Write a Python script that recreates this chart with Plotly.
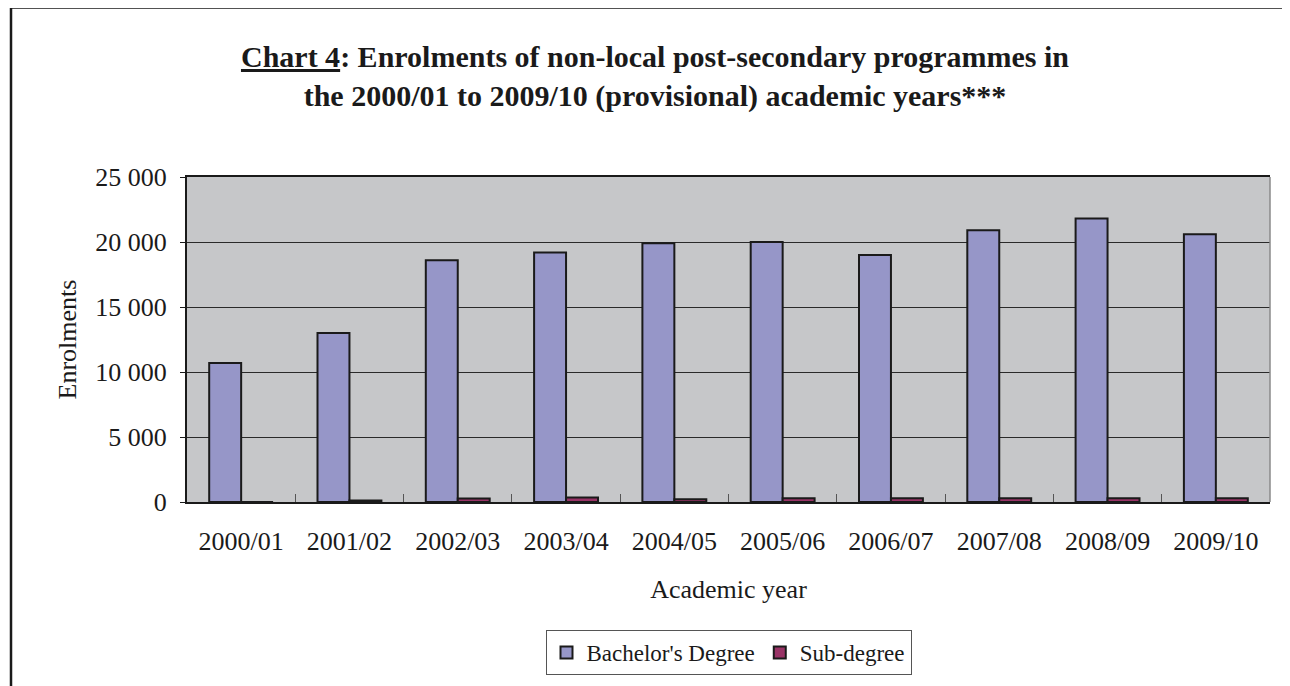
import plotly.graph_objects as go

years = ["2000/01", "2001/02", "2002/03", "2003/04", "2004/05",
         "2005/06", "2006/07", "2007/08", "2008/09", "2009/10"]
bachelor = [10700, 13000, 18600, 19200, 19900, 20000, 19000, 20900, 21800, 20600]
sub_degree = [0, 110, 260, 340, 220, 280, 290, 290, 290, 280]
y_tickvals = [0, 5000, 10000, 15000, 20000, 25000]
y_ticktext = ["0", "5 000", "10 000", "15 000", "20 000", "25 000"]

FONT = "'Liberation Serif', 'Times New Roman', serif"
INK = "#1a1a1a"

# page offset (browser body margin): reference pixel p -> figure pixel p - OFF
OFF = 8
W, H = 1290, 686
L = 187 - OFF
T = 177 - OFF
R = W - (1270 - OFF)
B = H - (502 - OFF)
pw, ph = W - L - R, H - T - B


def px2x(px):
    return (px - OFF - L) / pw


def py2y(py):
    return (H - B - (py - OFF)) / ph


fig = go.Figure()
fig.add_trace(go.Bar(
    x=years, y=bachelor, name="Bachelor's Degree",
    marker=dict(color="#9696C8", line=dict(color=INK, width=2)),
))
fig.add_trace(go.Bar(
    x=years, y=sub_degree, name="Sub-degree",
    marker=dict(color="#993366", line=dict(color=INK, width=2)),
))

fig.update_layout(
    width=W, height=H,
    margin=dict(l=L, r=R, t=T, b=B),
    paper_bgcolor="white",
    plot_bgcolor="#C6C7C9",
    barmode="group",
    bargap=0.41,
    bargroupgap=0,
    font=dict(family=FONT, size=26, color=INK),
    showlegend=True,
    legend=dict(
        orientation="h",
        x=px2x(728.5), xanchor="center",
        y=py2y(652.5), yanchor="middle",
        bordercolor="#555555", borderwidth=1,
        font=dict(family=FONT, size=23, color=INK),
        itemwidth=30,
        tracegroupgap=0,
    ),
    xaxis=dict(
        type="category",
        showgrid=False,
        showline=True, linecolor=INK, linewidth=2,
        mirror=True,
        ticks="inside", ticklen=8, tickcolor="#555555", tickwidth=1,
        tickson="boundaries",
        ticklabelstandoff=15,
        tickfont=dict(family=FONT, size=26, color=INK),
        title=dict(text="Academic year", standoff=25,
                   font=dict(family=FONT, size=26, color=INK)),
    ),
    yaxis=dict(
        range=[0, 25000],
        tickvals=y_tickvals, ticktext=y_ticktext,
        showgrid=True, gridcolor="#2a2a2a", gridwidth=1,
        showline=True, linecolor=INK, linewidth=2,
        ticks="outside", ticklen=5, tickcolor=INK,
        ticklabelstandoff=8,
        zeroline=False,
        tickfont=dict(family=FONT, size=26, color=INK),
        title=dict(text="Enrolments", standoff=11,
                   font=dict(family=FONT, size=26, color=INK)),
    ),
    title=dict(
        text="<b><u>Chart 4</u>: Enrolments of non-local post-secondary programmes in<br>"
             "the 2000/01 to 2009/10 (provisional) academic years***</b>",
        x=px2x(655), xref="paper", xanchor="center",
        y=1 - (67 - OFF) / H, yref="container", yanchor="middle",
        font=dict(family=FONT, size=30, color=INK),
    ),
    shapes=[
        # outer frame
        dict(type="rect", xref="paper", yref="paper",
             x0=px2x(11), x1=px2x(1320), y0=py2y(740), y1=py2y(7.5),
             line=dict(color=INK, width=2.5), fillcolor="rgba(0,0,0,0)",
             layer="below"),
        # right plot edge
        dict(type="line", xref="paper", yref="paper",
             x0=1, x1=1, y0=0, y1=1,
             line=dict(color="#8a8a8a", width=1.5)),
    ],
)

fig.write_html("out.html")
